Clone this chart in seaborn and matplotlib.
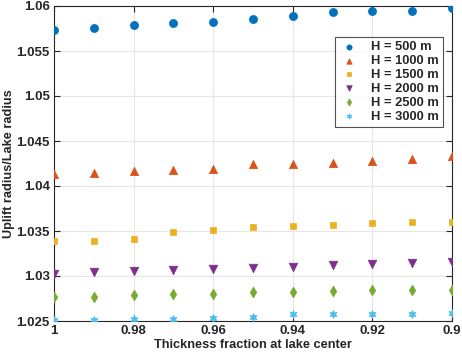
import numpy as np
import pandas as pd
import matplotlib
matplotlib.use("Agg")
import matplotlib.pyplot as plt
import seaborn as sns

thickness = [1.00, 0.99, 0.98, 0.97, 0.96, 0.95, 0.94, 0.93, 0.92, 0.91, 0.90]
h500 = [1.0573, 1.0576, 1.0579, 1.0581, 1.0582, 1.0586, 1.0589, 1.0593, 1.0594, 1.0594, 1.0598]
h1000 = [1.0413, 1.0414, 1.0417, 1.0418, 1.0419, 1.0424, 1.0424, 1.0426, 1.0428, 1.0430, 1.0433]
h1500 = [1.0339, 1.0339, 1.0341, 1.0349, 1.0351, 1.0354, 1.0356, 1.0357, 1.0359, 1.0360, 1.0360]
h2000 = [1.0302, 1.0304, 1.0306, 1.0307, 1.0308, 1.0309, 1.0310, 1.0312, 1.0313, 1.0314, 1.0316]
h2500 = [1.0277, 1.0277, 1.0279, 1.0280, 1.0280, 1.0282, 1.0282, 1.0283, 1.0284, 1.0285, 1.0285]
h3000 = [1.0251, 1.0251, 1.0252, 1.0252, 1.0253, 1.0254, 1.0258, 1.0258, 1.0258, 1.0258, 1.0259]
series_labels = ["H = 500 m", "H = 1000 m", "H = 1500 m", "H = 2000 m", "H = 2500 m", "H = 3000 m"]
x_ticks = [1, 0.98, 0.96, 0.94, 0.92, 0.9]
x_tick_labels = ["1", "0.98", "0.96", "0.94", "0.92", "0.9"]
y_ticks = [1.025, 1.03, 1.035, 1.04, 1.045, 1.05, 1.055, 1.06]
y_tick_labels = ["1.025", "1.03", "1.035", "1.04", "1.045", "1.05", "1.055", "1.06"]

sns.set_style("ticks")
plt.rcParams['font.family'] = ['Liberation Sans', 'DejaVu Sans']
plt.rcParams['font.weight'] = 'bold'

all_vals = [h500, h1000, h1500, h2000, h2500, h3000]
rows = []
for lab, vals in zip(series_labels, all_vals):
    for t, v in zip(thickness, vals):
        rows.append({"x": t, "y": v, "H": lab})
df = pd.DataFrame(rows)

colors = ["#0072BD", "#D95319", "#EDB120", "#7E2F8E", "#77AC30", "#4DBEEE"]
markers = ["o", "^", "s", "v", "d", (6, 1, 0)]
sizes = [34, 36, 20, 38, 30, 34]

fig = plt.figure(figsize=(4.62, 3.52), dpi=100)
ax = fig.add_axes([54/462, 1-321/352, (452-54)/462, (321-6)/352])

for lab, c, m, s in zip(series_labels, colors, markers, sizes):
    sub = df[df["H"] == lab]
    sns.scatterplot(data=sub, x="x", y="y", color=c, marker=m, s=s,
                    edgecolor=c, linewidth=0.5, ax=ax, label=lab, zorder=3)

ax.set_xlim(1.0, 0.9)
ax.set_ylim(1.025, 1.06)
ax.set_xticks(x_ticks)
ax.set_xticklabels(x_tick_labels)
ax.set_yticks(y_ticks)
ax.set_yticklabels(y_tick_labels)
ax.grid(True, color="#e6e6e6", linewidth=0.8, zorder=0)
ax.set_axisbelow(True)
ax.tick_params(direction="in", top=True, right=True, length=4, width=0.8,
               labelsize=9.5, pad=3, colors="#262626")
for sp in ax.spines.values():
    sp.set_color("#262626")
    sp.set_linewidth(0.8)
ax.set_xlabel("Thickness fraction at lake center", fontsize=9.2, fontweight="bold", labelpad=1)
ax.set_ylabel("Uplift radius/Lake radius", fontsize=9.2, fontweight="bold", labelpad=1)

leg = ax.legend(loc="upper right", bbox_to_anchor=(443/462, 1-37/352),
                bbox_transform=fig.transFigure, fontsize=9.3, frameon=True,
                fancybox=False, edgecolor="#262626", handletextpad=0.9,
                borderpad=0.3, borderaxespad=0, labelspacing=0.15,
                handlelength=1.6, markerscale=0.65)
leg.get_frame().set_linewidth(0.8)
for t in leg.get_texts():
    t.set_fontweight("bold")

fig.savefig("out.png", dpi=100)
